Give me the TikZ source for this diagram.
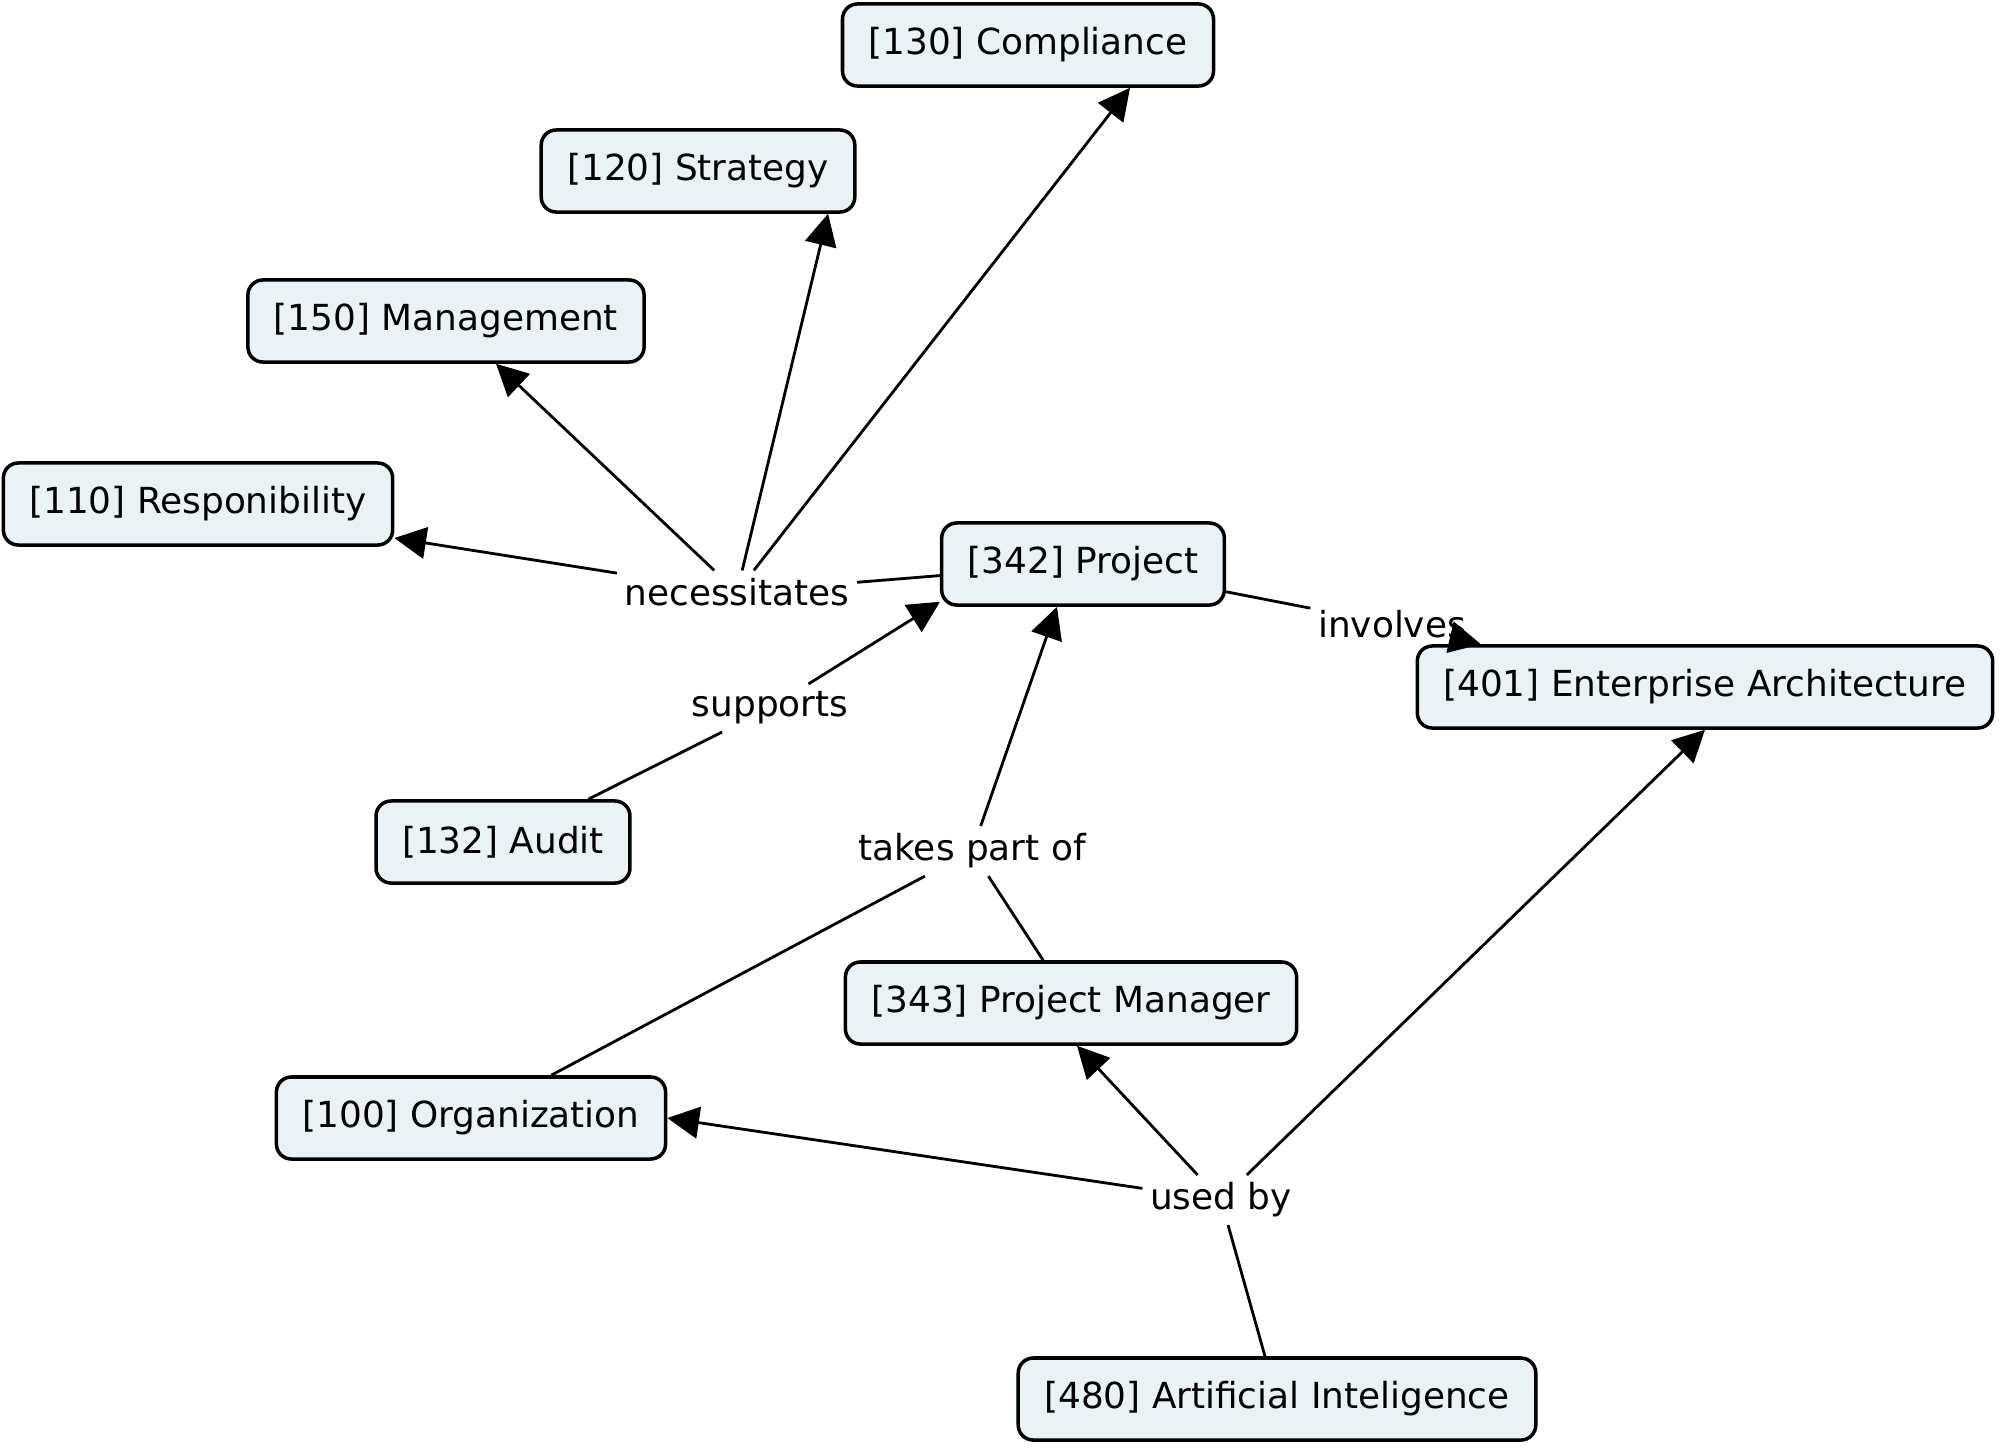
\documentclass[tikz,border=0pt]{standalone}
\usepackage{fontspec}
\setmainfont{DejaVu Sans}
\usetikzlibrary{arrows.meta}

\begin{document}
\begin{tikzpicture}[
    x=0.01cm, y=-0.01cm,             % 1 drawing unit = 1 px, y downwards
    >={Triangle[length=9pt,width=9pt]},
    font=\fontsize{10.2pt}{12pt}\selectfont,
    concept/.style={draw,line width=1pt,rounded corners=0.15cm,fill=boxfill,
                    minimum height=0.82cm,inner xsep=0.26cm},
    phrase/.style={inner sep=2pt},
    link/.style={line width=0.8pt},
  ]
  \definecolor{boxfill}{RGB}{235,242,245}
  \useasboundingbox (0,0) rectangle (2003,1448);

  %% ---------------- concepts ----------------
  \node[concept] (comp) at (1028,45)   {[130] Compliance};
  \node[concept] (strat) at (698,171)  {[120] Strategy};
  \node[concept] (mgmt) at (446,321)   {[150] Management};
  \node[concept] (resp) at (198,504)   {[110] Responibility};
  \node[concept] (proj) at (1083,564)  {[342] Project};
  \node[concept] (ea) at (1705,687)    {[401] Enterprise Architecture};
  \node[concept] (audit) at (503,842)  {[132] Audit};
  \node[concept] (pm) at (1071,1003)   {[343] Project Manager};
  \node[concept] (org) at (471,1118)   {[100] Organization};
  \node[concept] (ai) at (1277,1399)   {[480] Artificial Inteligence};

  %% ---------------- linking phrases ----------------
  \node[phrase] (nec) at (737,592)     {necessitates};
  \node[phrase] (sup) at (770,708)     {supports};
  \node[phrase] (inv) at (1392,624)    {involves};
  \node[phrase] (take) at (972,851)    {takes part of};
  \node[phrase] (used) at (1221,1200)  {used by};

  %% ---------------- connections ----------------
  \draw[link] (proj) -- (nec);
  \draw[link,->] (nec) -- ([yshift=-0.34cm]resp.east);
  \draw[link,->] (nec) -- ([xshift=0.5cm]mgmt.south);
  \draw[link,->] (nec) -- ([xshift=1.3cm]strat.south);
  \draw[link,->] (nec) -- ([xshift=1.02cm]comp.south);
  \draw[link] (audit) -- (sup);
  \draw[link,->] (sup) -- ([yshift=0.05cm]proj.south west);
  \draw[link] (proj) -- (inv);
  \draw[link,->] (inv) -- ([xshift=-2.24cm]ea.north);
  \draw[link] (org) -- (take);
  \draw[link] (pm) -- (take);
  \draw[link,->] (take) -- ([xshift=-0.26cm]proj.south);
  \draw[link] (ai) -- (used);
  \draw[link,->] (used) -- (org.east);
  \draw[link,->] (used) -- ([xshift=0.06cm]pm.south);
  \draw[link,->] (used) -- (ea.south);
\end{tikzpicture}
\end{document}
